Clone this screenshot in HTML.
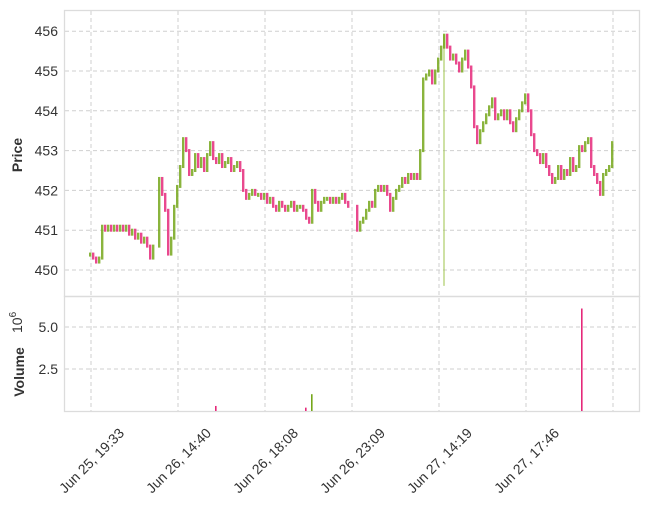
<!DOCTYPE html>
<html><head><meta charset="utf-8"><style>
body{margin:0;background:#fff;}
svg{display:block;font-family:"Liberation Sans",sans-serif;}
</style></head><body>
<svg id="chart" width="649" height="509" viewBox="0 0 649 509">
<g id="grid"></g>
<rect x="64.5" y="10.5" width="575" height="286" fill="none" stroke="#dcdcdc" stroke-width="1.3"/>
<rect x="64.5" y="296.5" width="575" height="115" fill="none" stroke="#dcdcdc" stroke-width="1.3"/>
<g id="marks"></g>
<g id="labels"></g>
<text transform="translate(22,155) rotate(-90)" text-anchor="middle" font-size="14" font-weight="bold" fill="#333">Price</text>
<text transform="translate(24,372) rotate(-90)" text-anchor="middle" font-size="14" font-weight="bold" fill="#333">Volume</text>
<text transform="translate(22,333) rotate(-90)" font-size="14" fill="#333">10<tspan dy="-6" font-size="10">6</tspan></text>
</svg>
<script>
const closes=[450.4,450.3,450.2,450.3,451.1,451.0,451.1,451.0,451.1,451.0,451.1,451.0,451.1,450.9,451.0,450.8,450.9,450.7,450.8,450.6,450.3,450.6,null,452.3,451.9,451.5,450.4,450.8,451.6,452.1,452.6,453.3,453.0,452.4,452.5,452.9,452.6,452.8,452.5,452.9,453.2,452.8,452.7,452.9,452.6,452.7,452.8,452.5,452.6,452.7,452.5,452.0,451.8,451.9,452.0,451.9,451.9,451.8,451.9,451.7,451.8,451.6,451.5,451.7,451.6,451.5,451.6,451.7,451.5,451.6,451.6,451.5,451.3,451.2,452.0,451.7,451.5,451.7,451.8,451.8,451.7,451.8,451.7,451.8,451.9,451.7,451.6,null,null,451.0,451.2,451.3,451.5,451.7,451.6,452.0,452.1,452.0,452.1,451.9,451.5,451.8,452.0,452.1,452.3,452.2,452.4,452.3,452.4,452.3,453.0,454.8,454.9,455.0,454.7,455.0,455.3,455.6,455.9,455.6,455.3,455.4,455.2,455.0,455.3,455.5,455.1,454.6,453.6,453.2,453.5,453.7,453.9,454.1,454.3,453.8,453.9,454.0,453.8,454.0,453.7,453.5,453.8,454.0,454.2,454.4,454.0,453.4,453.0,452.9,452.7,452.9,452.6,452.4,452.2,452.3,452.6,452.3,452.5,452.4,452.8,452.5,452.6,453.1,453.0,453.2,453.3,452.6,452.4,452.2,451.9,452.4,452.5,452.6,453.2];
const volumes=closes.map(()=>0);
volumes[42]=0.3;volumes[72]=0.2;volumes[74]=1.0;volumes[164]=6.1;
const lowSpikes={118:449.6};
const priceTicks=[450,451,452,453,454,455,456];
const volTicks=[2.5,5.0];
const xTickLabels=["Jun 25, 19:33","Jun 26, 14:40","Jun 26, 18:08","Jun 26, 23:09","Jun 27, 14:19","Jun 27, 17:46",""];
const NS="http://www.w3.org/2000/svg";
const py=p=>270+(450-p)*39.8;
const vy=v=>411-v*16.8;
const xi=i=>89+3*i;
const tx=k=>91+87*k;
function mk(tag,attrs,parent){const e=document.createElementNS(NS,tag);for(const k in attrs)e.setAttribute(k,attrs[k]);parent.appendChild(e);return e;}
const grid=document.getElementById('grid'),marks=document.getElementById('marks'),labels=document.getElementById('labels');
priceTicks.forEach(p=>{
 const l=mk('line',{x1:65,x2:640,y1:py(p),y2:py(p),stroke:'#cfcfcf','stroke-dasharray':'4,3'},grid);
 
 
 const t=mk('text',{x:58,y:py(p)+5,'text-anchor':'end','font-size':14,fill:'#333'},labels);t.textContent=p;
 
 
});
volTicks.forEach(v=>{
 const l=mk('line',{x1:65,x2:640,y1:vy(v),y2:vy(v),stroke:'#cfcfcf','stroke-dasharray':'4,3'},grid);
 
 
 const t=mk('text',{x:58,y:vy(v)+5,'text-anchor':'end','font-size':14,fill:'#333'},labels);t.textContent=v.toFixed(1);
 
 
});
xTickLabels.forEach((s,k)=>{
 const l=mk('line',{x1:tx(k),x2:tx(k),y1:11,y2:411,stroke:'#cfcfcf','stroke-dasharray':'4,3'},grid);
 
 
 if(!s)return;
 const t=mk('text',{transform:`translate(${tx(k)+4},${464}) rotate(-45)`,'text-anchor':'middle','font-size':14,fill:'#333'},labels);t.textContent=s;
 
 
});
let prev=null;
closes.forEach((c,i)=>{
 if(c===null){return;}
 const o=prev===null?c:prev;
 const up=c>=o;
 const col=up?'#76a71b':'#e5297a';
 const top=py(Math.max(o,c)),bot=py(Math.min(o,c));
 if(lowSpikes[i]!==undefined){
  const w=mk('line',{x1:xi(i)+1,x2:xi(i)+1,y1:top,y2:py(lowSpikes[i]),stroke:'#9cc34a','stroke-width':1},marks);
  
  
 }
 const r=mk('rect',{x:xi(i),y:top-1.5,width:2.4,height:Math.max(bot-top,1)+3,fill:col,opacity:0.85},marks);
 
 
 const v=volumes[i];
 if(v>0){
  const b=mk('rect',{x:xi(i),y:vy(v),width:1.6,height:411-vy(v),fill:col},marks);
  
  
 }
 prev=c;
});
</script>
</body></html>
